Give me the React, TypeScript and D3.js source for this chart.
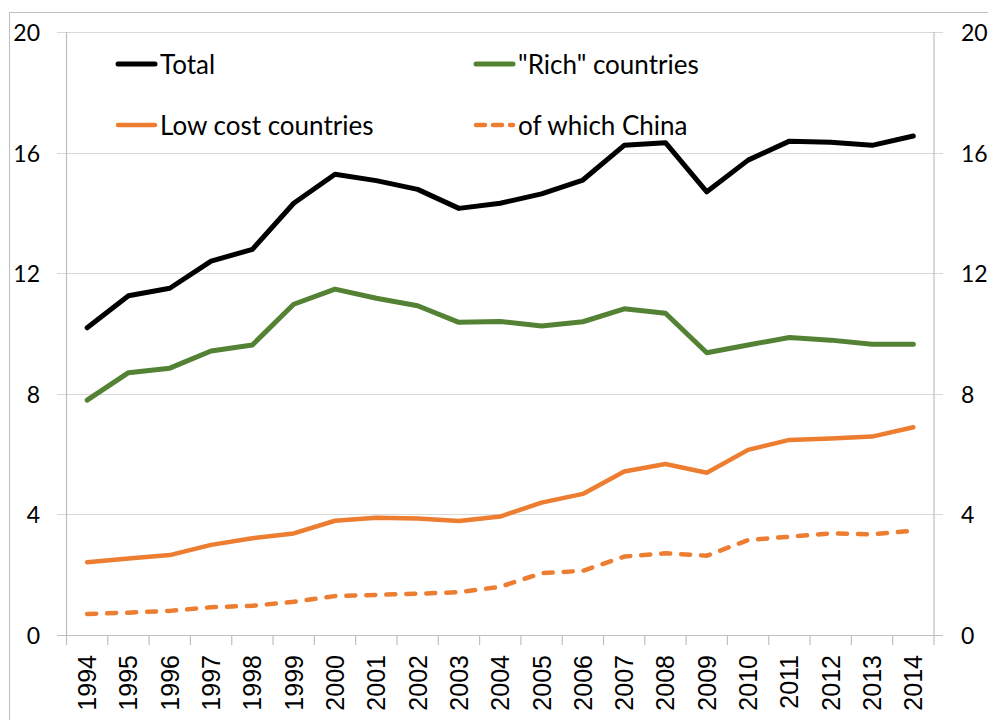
import React from "react";
import * as d3 from "d3";

const years = [1994,1995,1996,1997,1998,1999,2000,2001,2002,2003,2004,2005,2006,2007,2008,2009,2010,2011,2012,2013,2014];
const total = [10.19,11.25,11.5,12.4,12.79,14.32,15.28,15.07,14.78,14.15,14.32,14.63,15.09,16.24,16.33,14.7,15.75,16.38,16.34,16.24,16.55];
const rich = [7.79,8.7,8.85,9.42,9.62,10.97,11.47,11.17,10.92,10.37,10.4,10.25,10.39,10.82,10.67,9.36,9.62,9.87,9.78,9.64,9.64];
const lowCost = [2.41,2.54,2.65,2.99,3.21,3.37,3.79,3.89,3.86,3.78,3.93,4.39,4.68,5.42,5.67,5.38,6.14,6.47,6.52,6.58,6.89];
const china = [0.7,0.74,0.8,0.92,0.97,1.1,1.29,1.33,1.37,1.42,1.6,2.05,2.13,2.6,2.71,2.63,3.15,3.26,3.37,3.34,3.46];
const yTicks = [0, 4, 8, 12, 16, 20];

const seriesList = [
  { name: "Total", values: total, color: "#000000", dash: null as string | null, width: 5 },
  { name: "\"Rich\" countries", values: rich, color: "#548235", dash: null, width: 5 },
  { name: "Low cost countries", values: lowCost, color: "#ED7D31", dash: null, width: 4.5 },
  { name: "of which China", values: china, color: "#ED7D31", dash: "9,11", width: 4.5 },
];

export default function App() {
  const W = 988, H = 720;
  const left = 66.5, right = 934, top = 32, bottom = 635;
  const x = d3.scaleBand<number>().domain(years).range([left, right]).padding(0);
  const y = d3.scaleLinear().domain([0, 20]).range([bottom, top]);
  const cx = (yr: number) => (x(yr) as number) + x.bandwidth() / 2;
  const line = (vals: number[]) =>
    d3.line<number>().x((_, i) => cx(years[i])).y((v) => y(v))(vals) as string;
  const grid = "#D9D9D9";
  const axisCol = "#BFBFBF";
  const legendPos = [
    { x: 116, y: 64 },
    { x: 474, y: 64 },
    { x: 116, y: 125 },
    { x: 474, y: 125 },
  ];
  const boundaries = years.map((yr) => x(yr) as number).concat([right]);
  return (
    <svg width={W} height={H} style={{ position: "absolute", left: 0, top: 0, background: "#fff" }}>
      <rect x={9.5} y={12.5} width={1000} height={800} fill="#fff" stroke="#BFBFBF" strokeWidth={1} />
      {yTicks.map((t) => (
        <line key={t} x1={57} x2={943} y1={Math.round(y(t)) + 0.5} y2={Math.round(y(t)) + 0.5} stroke={t === 0 ? axisCol : grid} strokeWidth={1.2} />
      ))}
      <line x1={left} x2={left} y1={top} y2={bottom} stroke={axisCol} strokeWidth={1.2} />
      <line x1={right} x2={right} y1={top} y2={bottom} stroke={axisCol} strokeWidth={1.2} />
      {boundaries.map((b, i) => (
        <line key={i} x1={b} x2={b} y1={bottom} y2={bottom + 10} stroke={axisCol} strokeWidth={1.2} />
      ))}
      {yTicks.map((t) => (
        <g key={"l" + t} fontFamily="Lato" fontSize={23} fill="#000">
          <text x={40} y={y(t)} textAnchor="end" dominantBaseline="central">{t}</text>
          <text x={961} y={y(t)} textAnchor="start" dominantBaseline="central">{t}</text>
        </g>
      ))}
      {years.map((yr) => (
        <text key={yr} transform={`translate(${cx(yr)},${bottom + 20}) rotate(-90)`} textAnchor="end" dominantBaseline="central"
          fontFamily="Liberation Sans" fontSize={25} fill="#000">{yr}</text>
      ))}
      {seriesList.map((s) => (
        <path key={s.name} d={line(s.values)} fill="none" stroke={s.color} strokeWidth={s.width}
          strokeLinejoin="round" strokeLinecap="round" strokeDasharray={s.dash ?? undefined} />
      ))}
      {seriesList.map((s, i) => (
        <g key={"lg" + i}>
          <line x1={legendPos[i].x + 2} x2={legendPos[i].x + 39} y1={legendPos[i].y} y2={legendPos[i].y}
            stroke={s.color} strokeWidth={s.width} strokeLinecap="round" strokeDasharray={s.dash ? "9,8" : undefined} />
          <text x={legendPos[i].x + 44} y={legendPos[i].y} dominantBaseline="central" fontFamily="Lato" fontSize={26} fill="#000">{s.name}</text>
        </g>
      ))}
    </svg>
  );
}
